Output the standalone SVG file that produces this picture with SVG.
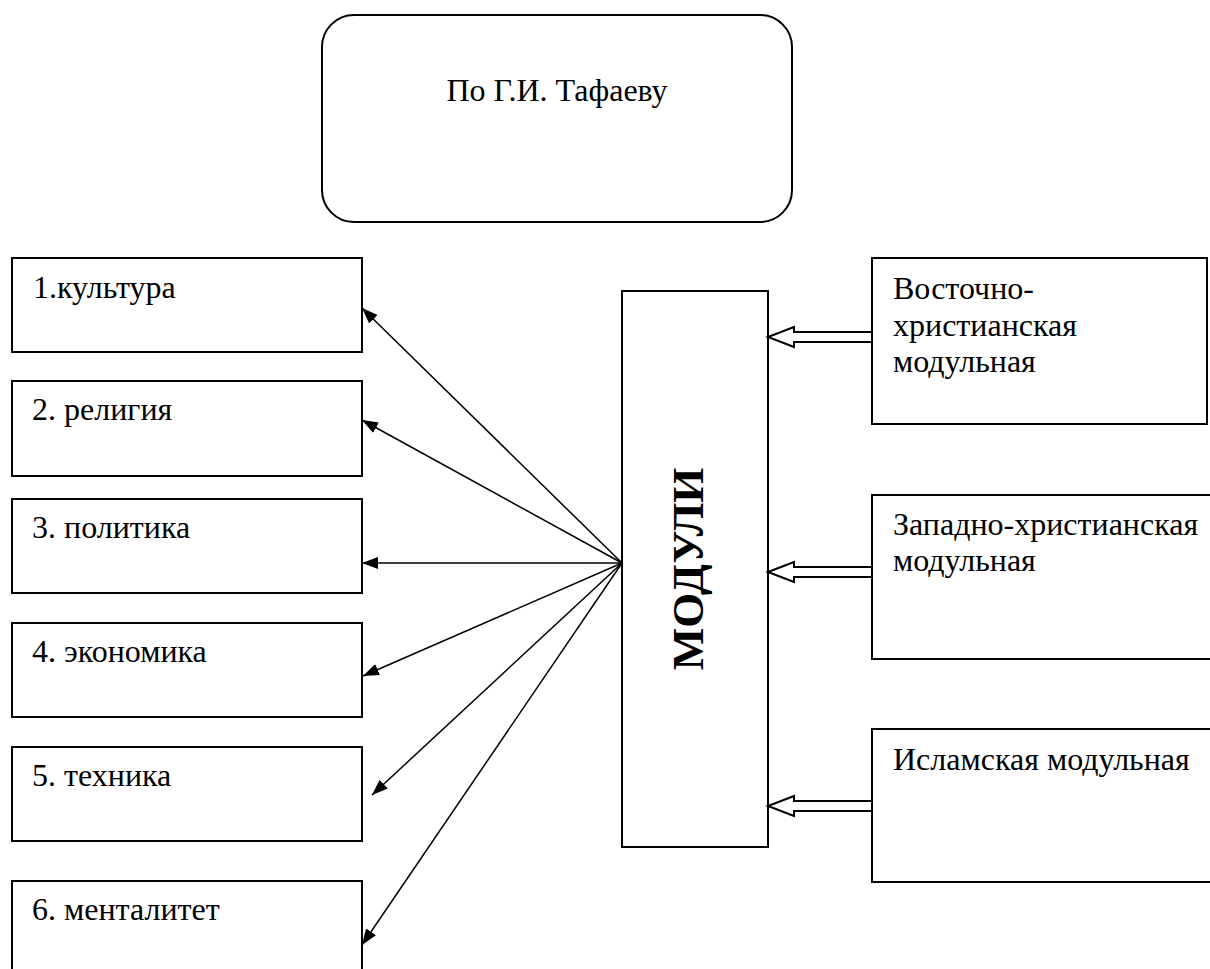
<svg xmlns="http://www.w3.org/2000/svg" width="1210" height="969" viewBox="0 0 1210 969">
<style>
.box{fill:#fff;stroke:#000;stroke-width:2}
.open{fill:none;stroke:#000;stroke-width:2}
.t{font-family:"Liberation Serif","Times New Roman",serif;font-size:32px;fill:#000}
.b{font-family:"Liberation Serif","Times New Roman",serif;font-size:45px;font-weight:bold;fill:#000}
.ln{stroke:#000;stroke-width:1.5;fill:none;marker-end:url(#ah)}
.hol{fill:#fff;stroke:#000;stroke-width:2;stroke-linejoin:miter}
</style>
<defs>
<marker id="ah" markerUnits="userSpaceOnUse" markerWidth="18" markerHeight="14" refX="16" refY="6" orient="auto">
<path d="M0,0 L16,6 L0,12 Z" fill="#000"/>
</marker>
</defs>
<rect width="1210" height="969" fill="#fff"/>
<g id="top">
<rect class="box" x="322" y="15" width="470" height="207" rx="32" ry="32"/>
<text class="t" x="557" y="101" text-anchor="middle">По Г.И. Тафаеву</text>
</g>
<g id="n1"><rect class="box" x="12" y="258" width="350" height="94"/><text class="t" x="33" y="298">1.культура</text></g>
<g id="n2"><rect class="box" x="12" y="381" width="350" height="95"/><text class="t" x="32" y="420">2. религия</text></g>
<g id="n3"><rect class="box" x="12" y="499" width="350" height="94"/><text class="t" x="32" y="538">3. политика</text></g>
<g id="n4"><rect class="box" x="12" y="623" width="350" height="94"/><text class="t" x="32" y="662">4. экономика</text></g>
<g id="n5"><rect class="box" x="12" y="747" width="350" height="94"/><text class="t" x="32" y="786">5. техника</text></g>
<g id="n6"><rect class="box" x="12" y="881" width="350" height="120"/><text class="t" x="32" y="920">6. менталитет</text></g>
<g id="mod">
<rect class="box" x="622" y="291" width="146" height="556"/>
<text class="b" transform="translate(703,569) rotate(-90)" text-anchor="middle">МОДУЛИ</text>
</g>
<g id="r1"><rect class="box" x="872" y="258" width="335" height="166"/>
<text class="t" x="893" y="299">Восточно-</text><text class="t" x="893" y="336">христианская</text><text class="t" x="893" y="372">модульная</text></g>
<g id="r2"><path class="open" d="M1212,495 H872 V659 H1212"/>
<text class="t" x="893" y="535">Западно-христианская</text><text class="t" x="893" y="571">модульная</text></g>
<g id="r3"><path class="open" d="M1212,729 H872 V882 H1212"/>
<text class="t" x="893" y="770">Исламская модульная</text></g>
<g id="connectors">
<line class="ln" x1="622" y1="563" x2="362" y2="308"/>
<line class="ln" x1="622" y1="563" x2="362" y2="420"/>
<line class="ln" x1="622" y1="563" x2="362" y2="563"/>
<line class="ln" x1="622" y1="563" x2="363" y2="676"/>
<line class="ln" x1="622" y1="563" x2="372" y2="795"/>
<line class="ln" x1="622" y1="563" x2="362" y2="945"/>
<polygon class="hol" points="768,337 794,327 794,332 872,332 872,342 794,342 794,347"/>
<polygon class="hol" points="768,572 794,562 794,567 872,567 872,577 794,577 794,582"/>
<polygon class="hol" points="768,806 794,796 794,801 872,801 872,811 794,811 794,816"/>
</g>
</svg>
